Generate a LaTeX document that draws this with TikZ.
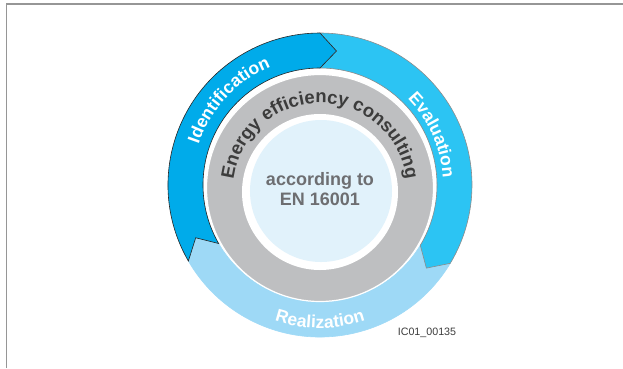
\documentclass[tikz,border=0pt]{standalone}
\usepackage{fontspec}
\setmainfont{Liberation Sans}
\usepackage{tikz}
\usetikzlibrary{
  calc,
  decorations.text
}
\definecolor{cycIdent}{RGB}{0,171,234}
\definecolor{cycEval}{RGB}{44,196,243}
\definecolor{cycReal}{RGB}{158,217,246}
\definecolor{cycGray}{RGB}{190,191,193}
\definecolor{cycCore}{RGB}{225,242,251}
\definecolor{cycText}{RGB}{60,60,60}
\definecolor{cycCoreText}{RGB}{109,110,113}
\definecolor{cycFrame}{RGB}{150,150,150}
\tikzset{
  cycSegment/.style={
    line width=0.6pt,
    line join=miter
  },
  cycFrameLine/.style={
    draw=cycFrame,
    line width=1.6pt
  },
  cycCoreLabel/.style={
    text=cycCoreText,
    font=\fontsize{18}{21}\selectfont\bfseries,
    align=center
  },
  cycTag/.style={
    text=cycText,
    font=\fontsize{10.7}{12}\selectfont
  }
}

\begin{document}
\begin{tikzpicture}[x=1pt, y=1pt]
  \useasboundingbox (-320,-183) rectangle (303,185);

  % frame
  \draw[cycFrameLine] (-313.5,-183) -- (-313.5,181) -- (303,181);

  % cycle arrows
  \foreach \tail/\head/\col/\edge in {329/210/cycReal/cycReal,
      90/-31/cycEval/black!45, 210/90/cycIdent/black!85}{
    \filldraw[cycSegment, fill=\col, draw=\edge]
      (\tail:152pt) arc[start angle=\tail, end angle=\head, radius=152pt]
      -- ({\head-7}:135pt) -- (\head:117pt)
      arc[start angle=\head, end angle=\tail, radius=117pt]
      -- ({\tail-7}:135pt) -- cycle;
  }

  % inner discs
  \filldraw[fill=cycGray, draw=white, line width=1.2pt]
    (0,-3) circle[radius=113.5pt];
  \fill[white] (0,-7) circle[radius=78pt];
  \fill[cycCore] (1,-6) circle[radius=71pt];

  % labels along the rings
  \path[decorate, decoration={text along path, text align=center,
      text color=white,
      text={|\fontsize{17.5}{20}\selectfont\bfseries|Identification}}]
    (200:128pt) arc[start angle=200, end angle=74, radius=128pt];
  \path[decorate, decoration={text along path, text align=center,
      text color=white,
      text={|\fontsize{17.5}{20}\selectfont\bfseries|Evaluation}}]
    (75:123pt) arc[start angle=75, end angle=-27, radius=123pt];
  \path[decorate, decoration={text along path, text align=center,
      text color=white,
      text={|\fontsize{17.5}{20}\selectfont\bfseries|Realization}}]
    (215:143pt) arc[start angle=215, end angle=325, radius=143pt];
  \path[decorate, decoration={text along path, text align=center,
      text color=cycText,
      text={|\fontsize{18.5}{20}\selectfont\bfseries|Energy efficiency consulting}}]
    ($(0,-5)+(200:87pt)$) arc[start angle=200, end angle=-20, radius=87pt];

  \node[cycCoreLabel, anchor=base] (core) at (0,0) {according to};
  \node[cycCoreLabel, anchor=base] (norm) at (0,-20.7) {EN 16001};

  \node[cycTag] (tag) at (107,-148) {IC01\_00135};
\end{tikzpicture}
\end{document}
